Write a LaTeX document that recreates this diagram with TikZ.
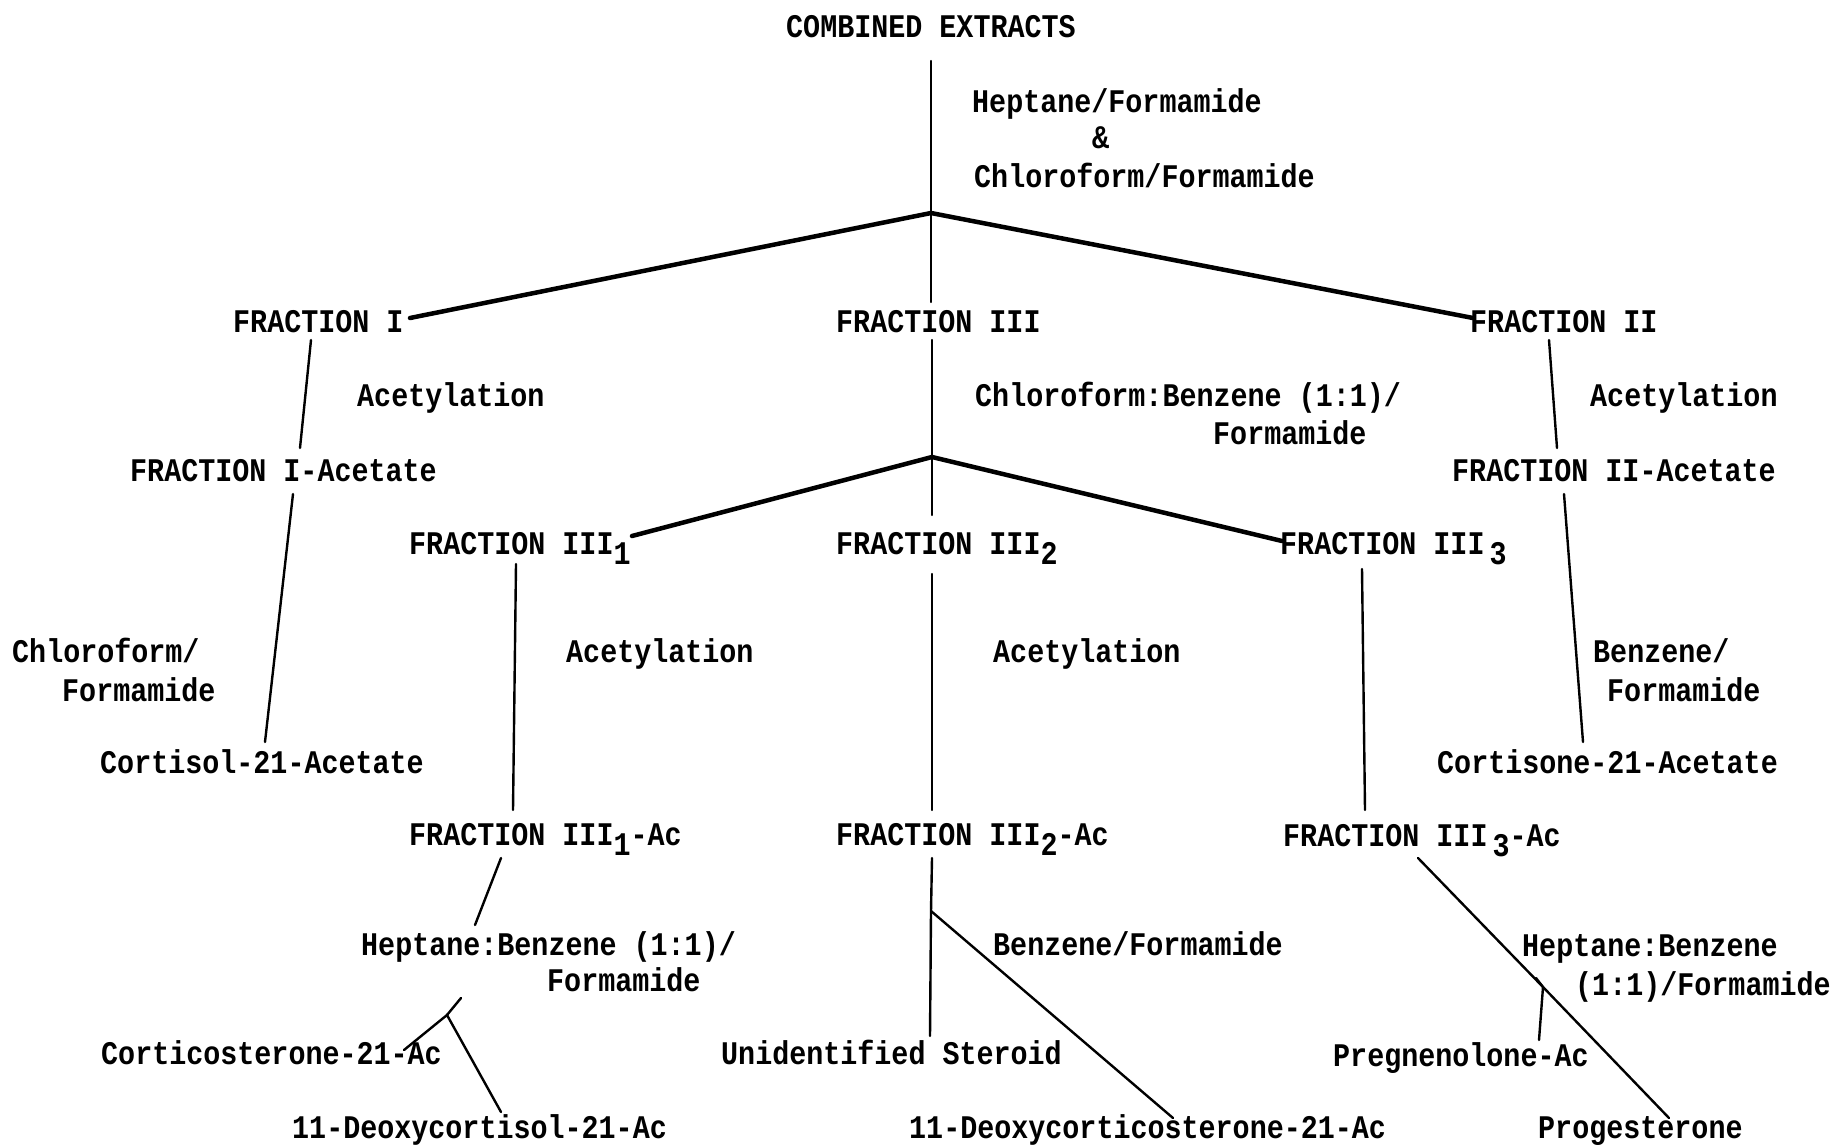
\documentclass[tikz,border=0pt]{standalone}
\usepackage{fontspec}
\setmainfont{Liberation Mono}[FakeStretch=0.86]
\newcommand{\subdigit}[1]{\raisebox{-10pt}{#1}}
\tikzset{
  lbl/.style={inner sep=0pt,anchor=base west,font=\fontsize{33pt}{38pt}\selectfont\bfseries},
  link/.style={line width=2.4pt},
  split/.style={line width=4.5pt}
}

\begin{document}
\begin{tikzpicture}[x=1pt,y=-1pt,line cap=round]
\useasboundingbox[fill=white] (0,0) rectangle (1836,1144);

\node[lbl] (ce) at (786,37) {COMBINED EXTRACTS};
\node[lbl] (solvA) at (972,112) {Heptane/Formamide};
\node[lbl] (solvB) at (1092,148) {\&};
\node[lbl] (solvC) at (974,187) {Chloroform/Formamide};
\node[lbl] (fI) at (233,332) {FRACTION I};
\node[lbl] (fIII) at (836,332) {FRACTION III};
\node[lbl] (fII) at (1470,332) {FRACTION II};
\node[lbl] (acI) at (357,406) {Acetylation};
\node[lbl] (cbfA) at (975,406) {Chloroform:Benzene (1:1)/};
\node[lbl] (cbfB) at (1213,444) {Formamide};
\node[lbl] (acII) at (1590,406) {Acetylation};
\node[lbl] (fIac) at (130,481) {FRACTION I-Acetate};
\node[lbl] (fIIac) at (1452,481) {FRACTION II-Acetate};
\node[lbl] (fIIIa) at (409,554) {FRACTION III\subdigit{1}};
\node[lbl] (fIIIb) at (836,554) {FRACTION III\subdigit{2}};
\node[lbl] (fIIIc) at (1280,554) {FRACTION III\kern5pt\subdigit{3}};
\node[lbl] (cfA) at (12,662) {Chloroform/};
\node[lbl] (cfB) at (62,701) {Formamide};
\node[lbl] (acIIIa) at (566,662) {Acetylation};
\node[lbl] (acIIIb) at (993,662) {Acetylation};
\node[lbl] (bfA) at (1593,662) {Benzene/};
\node[lbl] (bfB) at (1607,701) {Formamide};
\node[lbl] (cortisol) at (100,773) {Cortisol-21-Acetate};
\node[lbl] (cortisone) at (1437,773) {Cortisone-21-Acetate};
\node[lbl] (fIIIaac) at (409,845) {FRACTION III\subdigit{1}-Ac};
\node[lbl] (fIIIbac) at (836,845) {FRACTION III\subdigit{2}-Ac};
\node[lbl] (fIIIcac) at (1283,846) {FRACTION III\kern5pt\subdigit{3}-Ac};
\node[lbl] (hbfaA) at (361,955) {Heptane:Benzene (1:1)/};
\node[lbl] (hbfaB) at (547,991) {Formamide};
\node[lbl] (bzf) at (993,955) {Benzene/Formamide};
\node[lbl] (hbfcA) at (1522,956) {Heptane:Benzene};
\node[lbl] (hbfcB) at (1575,995) {(1:1)/Formamide};
\node[lbl] (cortico) at (101,1064) {Corticosterone-21-Ac};
\node[lbl] (unid) at (721,1064) {Unidentified Steroid};
\node[lbl] (preg) at (1333,1066) {Pregnenolone-Ac};
\node[lbl] (deoxcl) at (292,1138) {11-Deoxycortisol-21-Ac};
\node[lbl] (deoxcs) at (909,1138) {11-Deoxycorticosterone-21-Ac};
\node[lbl] (prog) at (1538,1138) {Progesterone};

\coordinate (j1) at (931,213);
\coordinate (j2) at (932,457);
\coordinate (j3) at (447,1015);
\coordinate (j4) at (931,911);
\coordinate (j5) at (1543,987);
\coordinate (tick) at (1536,978);

\draw[link] ([shift={(145,24)}]ce.base west) -- (j1) -- ([shift={(95,-30)}]fIII.base west);
\draw[split] ([shift={(177,-14)}]fI.base west) -- (j1) -- ([shift={(3,-14)}]fII.base west);
\draw[link] ([shift={(78,8)}]fI.base west) -- ([shift={(170,-33)}]fIac.base west);
\draw[link] ([shift={(163,13)}]fIac.base west) -- ([shift={(165,-31)}]cortisol.base west);
\draw[link] ([shift={(96,8)}]fIII.base west) -- (j2) -- ([shift={(96,-39)}]fIIIb.base west);
\draw[split] ([shift={(223,-18)}]fIIIa.base west) -- (j2) -- ([shift={(2,-13)}]fIIIc.base west);
\draw[link] ([shift={(79,8)}]fII.base west) -- ([shift={(105,-33)}]fIIac.base west);
\draw[link] ([shift={(112,13)}]fIIac.base west) -- ([shift={(146,-31)}]cortisone.base west);
\draw[link] ([shift={(107,10)}]fIIIa.base west) -- ([shift={(104,-35)}]fIIIaac.base west);
\draw[link] ([shift={(96,20)}]fIIIb.base west) -- ([shift={(96,-35)}]fIIIbac.base west);
\draw[link] ([shift={(82,15)}]fIIIc.base west) -- ([shift={(82,-36)}]fIIIcac.base west);
\draw[link] ([shift={(92,13)}]fIIIaac.base west) -- ([shift={(114,-30)}]hbfaA.base west);
\draw[link] ([shift={(100,43)}]hbfaA.base west) -- (j3);
\draw[link] ([shift={(303,-14)}]cortico.base west) -- (j3) -- ([shift={(209,-26)}]deoxcl.base west);
\draw[link] ([shift={(96,13)}]fIIIbac.base west) -- (j4) -- ([shift={(209,-28)}]unid.base west);
\draw[link] (j4) -- ([shift={(264,-20)}]deoxcs.base west);
\draw[link] ([shift={(135,12)}]fIIIcac.base west) -- (j5) -- ([shift={(131,-20)}]prog.base west);
\draw[link] ([shift={(206,-26)}]preg.base west) -- (j5) -- (tick);
\end{tikzpicture}
\end{document}
